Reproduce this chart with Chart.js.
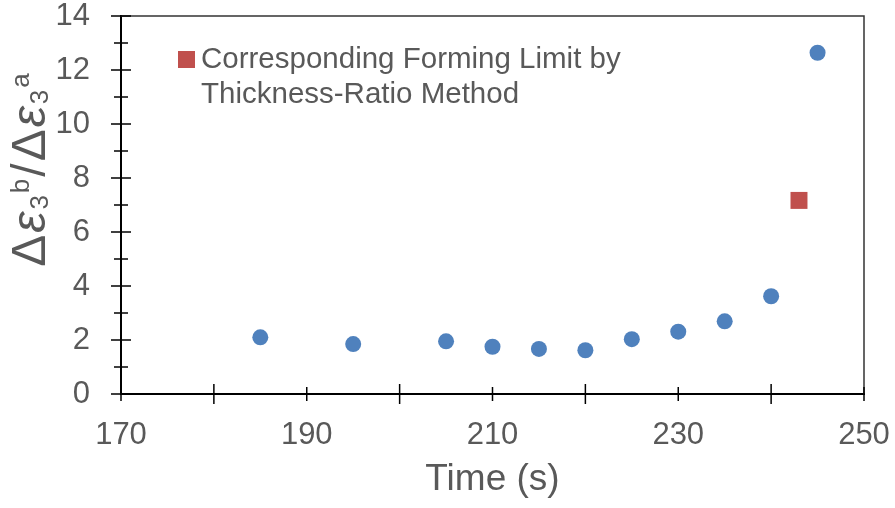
<!DOCTYPE html>
<html>
<head>
<meta charset="utf-8">
<script src="https://cdn.jsdelivr.net/npm/chart.js@4.4.0/dist/chart.umd.min.js"></script>
<style>
  html, body { margin: 0; padding: 0; background: #fff; }
  #wrap { width: 895px; height: 508px; }
</style>
</head>
<body>
<div id="wrap"><canvas id="chart" width="895" height="508"></canvas></div>
<script>
// thickness strain ratio over time
const times = [185, 195, 205, 210, 215, 220, 225, 230, 235, 240, 245];
const ratios = [2.1, 1.85, 1.95, 1.75, 1.67, 1.62, 2.03, 2.31, 2.69, 3.62, 12.64];

// forming limit from the thickness-ratio method
const limitTime = [243];
const limitRatio = [7.17];

const legendLines = ['Corresponding Forming Limit by', 'Thickness-Ratio Method'];
const xTitle = 'Time (s)';

const FONT = '"Liberation Sans", Arial, sans-serif';
const GRAY = '#595959';

function drawTicks(ctx, scale, step, majorEvery, horizontal) {
    for (let v = scale.min; v <= scale.max + 1e-9; v += step) {
        const major = Math.abs(Math.round(v / majorEvery) * majorEvery - v) < 1e-9;
        const half = major ? 10 : 7;
        const p = scale.getPixelForValue(v);
        ctx.beginPath();
        if (horizontal) {
            const y = scale.top;
            ctx.moveTo(p, y - half);
            ctx.lineTo(p, y + half);
        } else {
            const x = scale.right;
            ctx.moveTo(x - half, p);
            ctx.lineTo(x + half, p);
        }
        ctx.stroke();
    }
}

const decorations = {
    id: 'decorations',
    afterDraw(chart) {
        const ctx = chart.ctx;
        const a = chart.chartArea;
        const xs = chart.scales.x, ys = chart.scales.y;
        ctx.save();

        // frame on top and right
        ctx.strokeStyle = '#333';
        ctx.lineWidth = 1.5;
        ctx.beginPath();
        ctx.moveTo(a.left, a.top);
        ctx.lineTo(a.right, a.top);
        ctx.lineTo(a.right, a.bottom);
        ctx.stroke();

        // crossing ticks, major and minor
        ctx.strokeStyle = '#000';
        ctx.lineWidth = 1.5;
        drawTicks(ctx, xs, 10, 20, true);
        drawTicks(ctx, ys, 1, 2, false);

        // legend entry
        ctx.fillStyle = '#C0504D';
        ctx.fillRect(178, 51, 17, 17);
        ctx.fillStyle = GRAY;
        ctx.font = '29.5px ' + FONT;
        ctx.textBaseline = 'alphabetic';
        ctx.textAlign = 'left';
        ctx.fillText(legendLines[0], 201, 68);
        ctx.fillText(legendLines[1], 201, 103);

        // y title: Δε3^b/Δε3^a
        ctx.translate(45, 170);
        ctx.rotate(-Math.PI / 2);
        const big = 48, small = 26, gap = 2;
        const parts = [
            { t: 'Δ', f: big + 'px ' + FONT, dy: 0 },
            { t: 'ε', f: 'italic ' + big + 'px ' + FONT, dy: 0 },
            { t: '3', f: small + 'px ' + FONT, dy: 3 },
            { t: 'b', f: small + 'px ' + FONT, dy: -16 },
            { t: '/', f: big + 'px ' + FONT, dy: 0 },
            { t: 'Δ', f: big + 'px ' + FONT, dy: 0 },
            { t: 'ε', f: 'italic ' + big + 'px ' + FONT, dy: 0 },
            { t: '3', f: small + 'px ' + FONT, dy: 3 },
            { t: 'a', f: small + 'px ' + FONT, dy: -16 }
        ];
        let total = 0;
        parts.forEach(p => { ctx.font = p.f; p.w = ctx.measureText(p.t).width; total += p.w + gap; });
        total -= gap;
        let x = -total / 2;
        parts.forEach(p => {
            ctx.font = p.f;
            ctx.fillText(p.t, x, p.dy);
            x += p.w + gap;
        });
        ctx.restore();
    }
};

new Chart(document.getElementById('chart'), {
    type: 'scatter',
    data: {
        datasets: [{
            label: 'ratio',
            data: times.map((t, i) => ({ x: t, y: ratios[i] })),
            backgroundColor: '#4F81BD',
            borderWidth: 0,
            pointRadius: 8,
            pointHoverRadius: 8
        }, {
            label: legendLines.join(' '),
            data: limitTime.map((t, i) => ({ x: t, y: limitRatio[i] })),
            backgroundColor: '#C0504D',
            borderWidth: 0,
            pointStyle: 'rect',
            pointRadius: 12,
            pointHoverRadius: 12
        }]
    },
    options: {
        responsive: false,
        animation: false,
        layout: { padding: { top: 16, right: 31, left: 0, bottom: 0 } },
        plugins: { legend: { display: false }, tooltip: { enabled: false } },
        scales: {
            x: {
                type: 'linear',
                min: 170,
                max: 250,
                afterFit: s => { s.height = 114; s.paddingLeft = 0; s.paddingRight = 0; },
                ticks: {
                    stepSize: 20,
                    color: GRAY,
                    padding: 26,
                    font: { family: FONT, size: 31, lineHeight: 1 }
                },
                grid: { display: true, drawOnChartArea: false, drawTicks: false },
                border: { color: '#000', width: 2 },
                title: {
                    display: true,
                    text: xTitle,
                    color: GRAY,
                    font: { family: FONT, size: 37, lineHeight: 1 },
                    padding: { top: 4, bottom: 10 }
                }
            },
            y: {
                min: 0,
                max: 14,
                afterFit: s => { s.width = 121; s.paddingTop = 0; s.paddingBottom = 0; },
                ticks: {
                    stepSize: 2,
                    color: GRAY,
                    padding: 31,
                    font: { family: FONT, size: 31, lineHeight: 1 }
                },
                grid: { display: true, drawOnChartArea: false, drawTicks: false },
                border: { color: '#000', width: 2 }
            }
        }
    },
    plugins: [decorations]
});
</script>
</body>
</html>
